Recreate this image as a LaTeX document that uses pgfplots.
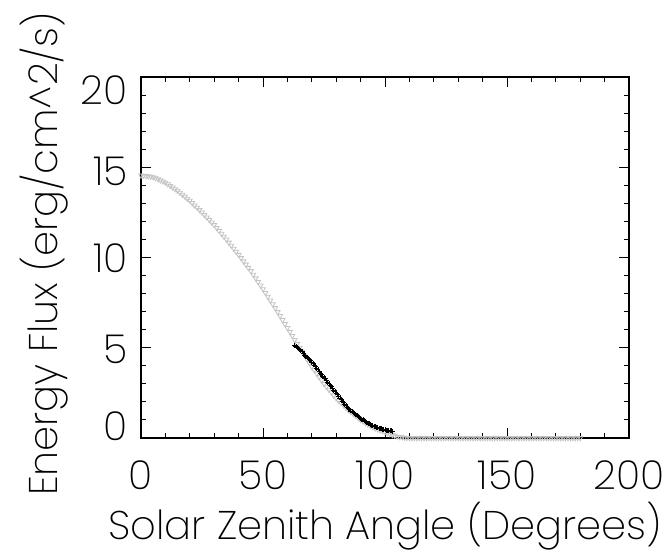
\documentclass[border=0pt]{standalone}
\usepackage{fontspec}
\setsansfont{Poppins}[UprightFont={* ExtraLight}]
\usepackage{pgfplots}
\pgfplotsset{compat=1.18}
\usepackage{pgfplotstable}
\newcommand\labfont{\sffamily\fontsize{40}{48}\selectfont}
\definecolor{lgray}{RGB}{195,195,195}

\pgfplotstableread{
x y
0 14.55
1 14.54
2 14.52
3 14.50
4 14.48
5 14.45
6 14.40
7 14.34
8 14.28
9 14.22
10 14.15
11 14.06
12 13.97
13 13.88
14 13.79
15 13.70
16 13.59
17 13.48
18 13.37
19 13.26
20 13.15
21 13.02
22 12.89
23 12.76
24 12.63
25 12.50
26 12.36
27 12.22
28 12.08
29 11.94
30 11.80
31 11.64
32 11.48
33 11.32
34 11.16
35 11.00
36 10.83
37 10.66
38 10.49
39 10.32
40 10.15
41 9.97
42 9.79
43 9.61
44 9.43
45 9.25
46 9.05
47 8.85
48 8.65
49 8.45
50 8.25
51 8.04
52 7.83
53 7.62
54 7.41
55 7.20
56 6.98
57 6.76
58 6.54
59 6.32
60 6.10
61 5.88
62 5.66
63 5.44
64 5.22
65 5.00
66 4.79
67 4.58
68 4.37
69 4.16
70 3.95
71 3.76
72 3.57
73 3.38
74 3.19
75 3.00
76 2.84
77 2.68
78 2.52
79 2.36
80 2.20
81 2.07
82 1.94
83 1.81
84 1.68
85 1.55
86 1.44
87 1.33
88 1.22
89 1.11
90 1.00
91 0.92
92 0.84
93 0.76
94 0.68
95 0.60
96 0.54
97 0.49
98 0.43
99 0.38
100 0.32
101 0.27
102 0.22
103 0.17
104 0.13
105 0.08
106 0.06
107 0.04
108 0.02
109 0.01
110 0
111 0
112 0
113 0
114 0
115 0
116 0
117 0
118 0
119 0
120 0
121 0
122 0
123 0
124 0
125 0
126 0
127 0
128 0
129 0
130 0
131 0
132 0
133 0
134 0
135 0
136 0
137 0
138 0
139 0
140 0
141 0
142 0
143 0
144 0
145 0
146 0
147 0
148 0
149 0
150 0
151 0
152 0
153 0
154 0
155 0
156 0
157 0
158 0
159 0
160 0
161 0
162 0
163 0
164 0
165 0
166 0
167 0
168 0
169 0
170 0
171 0
172 0
173 0
174 0
175 0
176 0
177 0
178 0
179 0
180 0
}\modeldata

\pgfplotstableread{
x y
63.0 5.15
63.5 5.08
64.0 5.02
64.5 4.95
65.0 4.90
65.5 4.86
66.0 4.80
66.5 4.70
67.0 4.60
67.5 4.52
68.0 4.45
68.5 4.40
69.0 4.35
69.5 4.28
70.0 4.20
70.5 4.12
71.0 4.05
71.5 3.95
72.0 3.85
72.5 3.78
73.0 3.70
73.5 3.60
74.0 3.50
74.5 3.42
75.0 3.35
75.5 3.28
76.0 3.20
76.5 3.10
77.0 3.00
77.5 2.92
78.0 2.85
78.5 2.75
79.0 2.65
79.5 2.58
80.0 2.50
80.5 2.40
81.0 2.30
81.5 2.22
82.0 2.15
82.5 2.05
83.0 1.95
83.5 1.88
84.0 1.80
84.5 1.72
85.0 1.65
85.5 1.58
86.0 1.50
86.5 1.45
87.0 1.40
87.5 1.35
88.0 1.30
88.5 1.25
89.0 1.20
89.5 1.15
90.0 1.10
90.5 1.05
91.0 1.00
91.5 0.95
92.0 0.90
92.5 0.86
93.0 0.82
93.5 0.78
94.0 0.75
94.5 0.71
95.0 0.68
95.5 0.65
96.0 0.62
96.5 0.59
97.0 0.56
97.5 0.54
98.0 0.52
98.5 0.50
99.0 0.48
99.5 0.47
100.0 0.45
100.5 0.44
101.0 0.42
101.5 0.41
102.0 0.40
102.5 0.39
103.0 0.38
}\obsdata

\begin{document}
\begin{tikzpicture}
\path[use as bounding box] (-141pt,-116pt) rectangle (524pt,438pt);
\begin{axis}[
  scale only axis,
  width=488pt, height=361pt,
  xmin=0, xmax=200, ymin=0, ymax=20,
  xtick={0,50,100,150,200},
  ytick={0,5,10,15,20},
  minor x tick num=4,
  minor y tick num=4,
  tick pos=both,
  tick align=inside,
  major tick length=10pt,
  minor tick length=5pt,
  every tick/.style={black, line width=0.9pt},
  axis line style={black, line width=1.1pt},
  clip=false,
  /pgf/number format/assume math mode=true,
  x tick label style={font=\labfont, yshift=-19pt},
  yticklabels={},
  xlabel={Solar Zenith Angle (Degrees)},
  ylabel={Energy Flux (erg/cm\textasciicircum 2/s)},
  label style={font=\labfont},
  xlabel style={at={(axis description cs:0.5,-0.2825)}, anchor=base},
  ylabel style={at={(axis description cs:-0.172,0.51)}, anchor=base, rotate=0},
]
\addplot[only marks, mark=triangle, mark size=2.8pt, lgray,
  mark options={rotate=180, line width=0.8pt}] table[x=x,y=y] {\modeldata};
\addplot[only marks, mark=+, mark size=2.5pt, black,
  mark options={line width=0.7pt}] table[x=x,y=y] {\obsdata};
\node[anchor=east, inner sep=0pt, font=\labfont] at (axis cs:0,0) [xshift=-13pt, yshift=12pt] {0};
\node[anchor=east, inner sep=0pt, font=\labfont] at (axis cs:0,5) [xshift=-13pt, yshift=-2pt] {5};
\node[anchor=east, inner sep=0pt, font=\labfont] at (axis cs:0,10) [xshift=-13pt, yshift=-1pt] {10};
\node[anchor=east, inner sep=0pt, font=\labfont] at (axis cs:0,15) [xshift=-13pt, yshift=-4pt] {15};
\node[anchor=east, inner sep=0pt, font=\labfont] at (axis cs:0,20) [xshift=-13pt, yshift=-13pt] {20};
\end{axis}
\end{tikzpicture}
\end{document}
